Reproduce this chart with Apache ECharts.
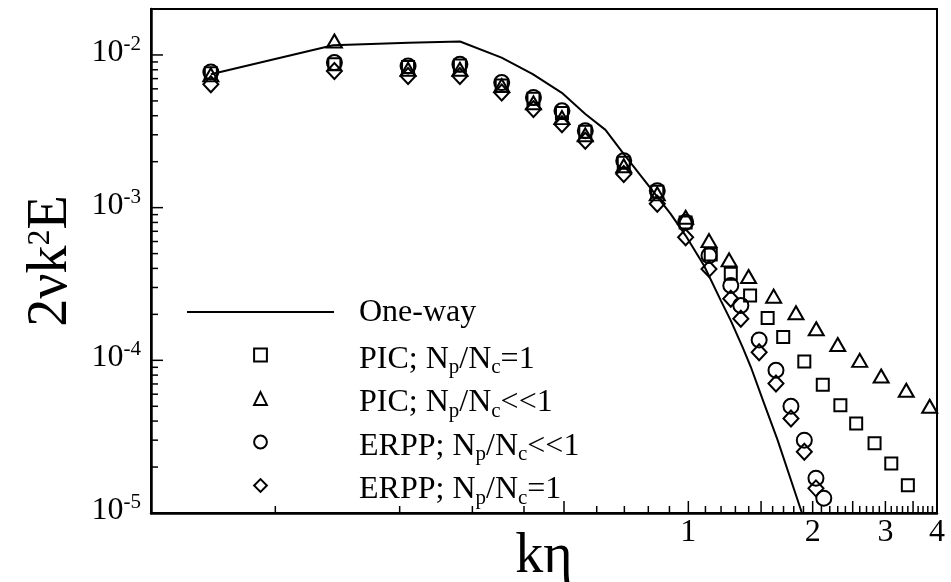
<!DOCTYPE html>
<html>
<head>
<meta charset="utf-8">
<script src="https://cdn.jsdelivr.net/npm/echarts@6/dist/echarts.min.js"></script>
<style>
  html, body { margin: 0; padding: 0; background: #fff; }
  #chart { width: 951px; height: 582px; }
</style>
</head>
<body>
<div id="chart"></div>
<script>
// ---- spectrum data: k*eta and 2*nu*k^2*E ----
const oneWayK = [0.0698, 0.138, 0.21, 0.28, 0.353, 0.42, 0.494, 0.563, 0.63, 0.698, 0.795, 0.906, 0.985, 1.091, 1.198, 1.267, 1.353, 1.417, 1.526, 1.645, 1.884];
const oneWayE = [7.48e-3, 1.157e-2, 1.2e-2, 1.225e-2, 9.6e-3, 7.5e-3, 5.65e-3, 4.11e-3, 3.23e-3, 2.24e-3, 1.43e-3, 9.1e-4, 6.56e-4, 4.18e-4, 2.47e-4, 1.82e-4, 1.22e-4, 9.04e-5, 5.21e-5, 3.0e-5, 1.0e-5];

const picOneK = [0.0698, 0.139, 0.2096, 0.2798, 0.3533, 0.4217, 0.4943, 0.563, 0.6976, 0.841, 0.985, 1.133, 1.267, 1.411, 1.556, 1.697, 1.909, 2.116, 2.334, 2.549, 2.824, 3.10, 3.40];
const picOneE = [7.6e-3, 8.69e-3, 8.35e-3, 8.54e-3, 6.3e-3, 5.16e-3, 4.17e-3, 3.14e-3, 1.97e-3, 1.27e-3, 8.0e-4, 4.93e-4, 3.69e-4, 2.66e-4, 1.89e-4, 1.42e-4, 9.84e-5, 6.93e-5, 5.08e-5, 3.86e-5, 2.86e-5, 2.11e-5, 1.52e-5];

const picLowK = [0.0698, 0.139, 0.2096, 0.2798, 0.3533, 0.4217, 0.4943, 0.563, 0.6976, 0.841, 0.985, 1.122, 1.255, 1.399, 1.609, 1.822, 2.04, 2.30, 2.60, 2.93, 3.37, 3.84];
const picLowE = [7.4e-3, 1.235e-2, 8.06e-3, 8.06e-3, 6.3e-3, 4.86e-3, 3.89e-3, 3.0e-3, 1.88e-3, 1.23e-3, 8.65e-4, 6.08e-4, 4.55e-4, 3.54e-4, 2.63e-4, 2.05e-4, 1.61e-4, 1.27e-4, 1.0e-4, 7.89e-5, 6.37e-5, 5.0e-5];

const erppLowK = [0.0698, 0.139, 0.2096, 0.2798, 0.3533, 0.4217, 0.4943, 0.563, 0.6976, 0.841, 0.985, 1.122, 1.267, 1.34, 1.484, 1.63, 1.772, 1.909, 2.037, 2.128];
const erppLowE = [7.74e-3, 8.91e-3, 8.48e-3, 8.69e-3, 6.59e-3, 5.26e-3, 4.31e-3, 3.19e-3, 2.03e-3, 1.29e-3, 8.02e-4, 4.85e-4, 3.09e-4, 2.29e-4, 1.36e-4, 8.61e-5, 5.0e-5, 3.0e-5, 1.69e-5, 1.25e-5];

const erppOneK = [0.0698, 0.139, 0.2096, 0.2798, 0.3533, 0.4217, 0.4943, 0.563, 0.6976, 0.841, 0.985, 1.122, 1.267, 1.34, 1.484, 1.63, 1.772, 1.909, 2.037];
const erppOneE = [6.43e-3, 7.86e-3, 7.29e-3, 7.29e-3, 5.68e-3, 4.42e-3, 3.52e-3, 2.74e-3, 1.66e-3, 1.06e-3, 6.4e-4, 3.97e-4, 2.53e-4, 1.87e-4, 1.13e-4, 7.05e-5, 4.16e-5, 2.52e-5, 1.45e-5];

const seriesNames = [
  'One-way',
  'PIC; N{s|p}/N{s|c}=1',
  'PIC; N{s|p}/N{s|c}<<1',
  'ERPP; N{s|p}/N{s|c}<<1',
  'ERPP; N{s|p}/N{s|c}=1'
];

// ---- axis ranges and tick positions ----
const X_MIN = 0.05, X_MAX = 4;
const Y_MIN = 1e-5, Y_MAX = 0.02;
const xLabelValues = [1, 2, 3, 4];
const xMajorTicks = [0.5, 1, 1.5, 2, 2.5, 3, 3.5, 4];
const xMinorTicks = [];
for (let i = 1; i < 40; i++) { if (i % 5 !== 0) xMinorTicks.push(i / 10); }
const yMajorTicks = [1e-5, 1e-4, 1e-3, 1e-2];
const yMinorTicks = [];
for (let e = -5; e <= -3; e++) {
  for (let m = 2; m <= 9; m++) yMinorTicks.push(Number((m * Math.pow(10, e)).toPrecision(3)));
}

const SERIF = '"Liberation Serif", "Times New Roman", serif';
const pairs = (ks, es) => ks.map((k, i) => [k, es[i]]);

function markerSeries(name, symbol, size, ks, es) {
  return {
    name, type: 'line', data: pairs(ks, es),
    symbol, symbolSize: size, showSymbol: true, showAllSymbol: true,
    lineStyle: { width: 0, opacity: 0 },
    itemStyle: { color: 'rgba(0,0,0,0)', borderColor: '#000', borderWidth: 2 },
    emphasis: { disabled: true }, z: 3
  };
}

// inward tick marks drawn as thin bars at axis positions
function tickSeries(values, dir, len) {
  return {
    type: 'custom', silent: true, clip: false, z: 6,
    data: values.map(v => dir === 'x' ? [v, Y_MIN] : [X_MIN, v]),
    renderItem: (params, api) => {
      const p = api.coord([api.value(0), api.value(1)]);
      const shape = dir === 'x'
        ? { x: p[0] - 0.75, y: p[1] - len, width: 1.5, height: len }
        : { x: p[0], y: p[1] - 0.75, width: len, height: 1.5 };
      return { type: 'rect', shape, style: { fill: '#000' } };
    }
  };
}

const xLabelSeries = {
  type: 'custom', silent: true, clip: false, z: 6,
  data: xLabelValues.map(v => [v, Y_MIN]),
  renderItem: (params, api) => {
    const p = api.coord([api.value(0), api.value(1)]);
    return {
      type: 'text', x: p[0], y: p[1] + 20,
      style: { text: String(api.value(0)), fontFamily: SERIF, fontSize: 32, fill: '#000', align: 'center', verticalAlign: 'middle' }
    };
  }
};

const chart = echarts.init(document.getElementById('chart'), null, { renderer: 'canvas' });
chart.setOption({
  animation: false,
  backgroundColor: '#fff',
  textStyle: { fontFamily: SERIF },
  grid: {
    left: 151, right: 14, top: 9, bottom: 69, containLabel: false, outerBoundsMode: 'none',
    show: true, borderColor: '#000', borderWidth: 2, backgroundColor: 'transparent'
  },
  xAxis: {
    type: 'log', logBase: 10, min: X_MIN, max: X_MAX,
    axisLine: { show: true, onZero: false, lineStyle: { color: '#000', width: 2.5 } },
    axisTick: { show: false }, axisLabel: { show: false }, splitLine: { show: false },
    name: 'kη', nameLocation: 'middle', nameGap: 16,
    nameTextStyle: { fontFamily: SERIF, fontSize: 56, color: '#000' }
  },
  yAxis: {
    type: 'log', logBase: 10, min: Y_MIN, max: Y_MAX,
    axisLine: { show: true, onZero: false, lineStyle: { color: '#000', width: 2.5 } },
    axisTick: { show: false }, splitLine: { show: false },
    axisLabel: {
      margin: 10, fontFamily: SERIF, fontSize: 32, color: '#000', padding: [0, 0, 5, 0],
      showMaxLabel: false,
      formatter: v => {
        const e = Math.log10(v);
        const r = Math.round(e);
        if (Math.abs(e - r) > 1e-6) return '';
        return '10{sup|' + r + '}';
      },
      rich: { sup: { fontFamily: SERIF, fontSize: 21, color: '#000', padding: [0, 0, 16, 0] } }
    },
    name: '2νk{sup|2}E', nameLocation: 'middle', nameGap: 72,
    nameTextStyle: {
      fontFamily: SERIF, fontSize: 56, color: '#000',
      rich: { sup: { fontFamily: SERIF, fontSize: 32, color: '#000', padding: [0, 0, 20, 0] } }
    }
  },
  legend: {
    orient: 'vertical', left: 186, top: 289.5, padding: 0,
    itemWidth: 147, itemHeight: 16, itemGap: -2, selectedMode: false,
    textStyle: {
      fontFamily: SERIF, fontSize: 32, color: '#000', lineHeight: 36, padding: [9, 0, 0, 20],
      rich: { s: { fontFamily: SERIF, fontSize: 21, color: '#000', lineHeight: 20, padding: [16, 0, 0, 0] } }
    },
    data: [
      { name: seriesNames[0], itemStyle: { opacity: 0 }, textStyle: { padding: [5, 0, 4, 20] } },
      seriesNames[1], seriesNames[2], seriesNames[3], seriesNames[4]
    ]
  },
  series: [
    {
      name: seriesNames[0], type: 'line', data: pairs(oneWayK, oneWayE),
      symbol: 'none', smooth: false,
      lineStyle: { color: '#000', width: 2 }, itemStyle: { color: '#000' },
      emphasis: { disabled: true }, z: 2
    },
    markerSeries(seriesNames[1], 'rect', 12, picOneK, picOneE),
    markerSeries(seriesNames[2], 'triangle', [15, 13], picLowK, picLowE),
    markerSeries(seriesNames[3], 'circle', 15, erppLowK, erppLowE),
    markerSeries(seriesNames[4], 'diamond', [15, 16], erppOneK, erppOneE),
    tickSeries(xMajorTicks, 'x', 12),
    tickSeries(xMinorTicks, 'x', 7),
    tickSeries(yMajorTicks, 'y', 12),
    tickSeries(yMinorTicks, 'y', 7),
    xLabelSeries
  ]
});
</script>
</body>
</html>
